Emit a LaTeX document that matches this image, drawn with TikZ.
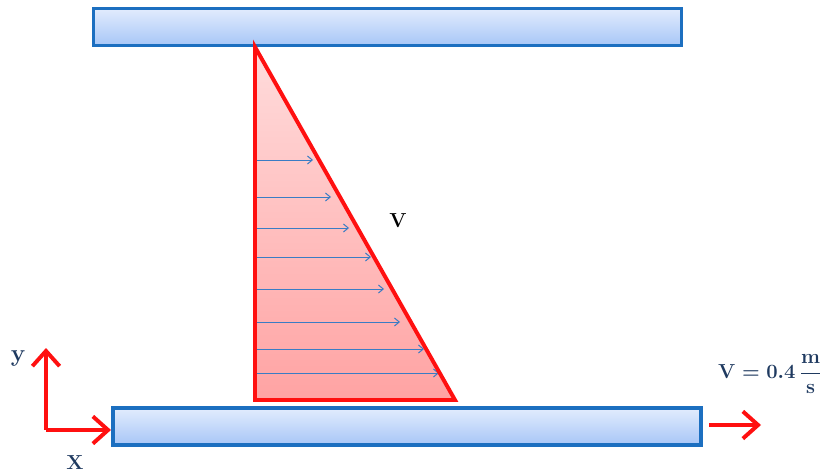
\documentclass[tikz,border=0pt]{standalone}
\usetikzlibrary{arrows.meta,shadows}
\usepackage{amsmath}
\definecolor{plateblue}{HTML}{1C6FC0}
\definecolor{platetop}{HTML}{E2ECFD}
\definecolor{platebot}{HTML}{A7C6F7}
\definecolor{profred}{HTML}{FF1010}
\definecolor{proftop}{HTML}{FFDCDC}
\definecolor{profbot}{HTML}{FFA3A3}
\definecolor{velblue}{HTML}{3A7CC4}
\definecolor{textblue}{HTML}{1F3A60}
\begin{document}
\begin{tikzpicture}[x=0.025cm, y=-0.025cm,
    plate/.style={draw=plateblue, line width=2.6pt, top color=platetop, bottom color=platebot,
        minimum height=0.93cm, inner sep=0pt,
        drop shadow={opacity=0.25, shadow xshift=0.6pt, shadow yshift=-1.2pt}},
    axis/.style={draw=profred, line width=2.8pt, -{Straight Barb[length=3.8mm, width=6.8mm, line width=2.8pt]}},
    vel/.style={draw=velblue, line width=0.7pt, -{Straight Barb[length=1.2mm, width=2mm]}},
    lbl/.style={font=\bfseries, text=textblue, inner sep=0pt}
]
\useasboundingbox (0,0) rectangle (820,473);

% Plates
\node[plate, minimum width=14.7cm] (top) at (387.5,27) {};
\node[plate, minimum width=14.7cm] (bottom) at (407,426.5) {};

% Velocity profile
\coordinate (apex) at (255,47);
\coordinate (base) at (255,400);
\coordinate (tip) at (455,400);
\shade[top color=proftop, bottom color=profbot] (apex) -- (tip) -- (base) -- cycle;
\foreach \y/\xe in {160/313, 197/331, 228/349, 257/371, 289/384, 322/400, 349/424, 373/439}
    \draw[vel] (257,\y) -- (\xe,\y);
\draw[profred, line width=2.8pt, line join=miter] (apex) -- (tip) -- (base) -- cycle;
\node[lbl, font=\bfseries\Large, text=black] (vlab) at (398,221) {V};

% Axes
\coordinate (orig) at (46,430);
\coordinate (yend) at (46,348);
\coordinate (xend) at (111,430);
\draw[axis] (orig) -- (yend);
\draw[axis] (orig) -- (xend);
\node[lbl, font=\bfseries\LARGE] (ylab) at (18,359) {y};
\node[lbl, font=\bfseries\Large] (xlab) at (75,463) {X};

% Moving plate
\coordinate (mstart) at (709,425);
\coordinate (mend) at (761,425);
\draw[axis] (mstart) -- (mend);
\node[font=\Large\boldmath, text=textblue, inner sep=0pt] (speed) at (770,374) {$\mathbf{V}=\mathbf{0.4}\,\dfrac{\mathbf{m}}{\mathbf{s}}$};
\end{tikzpicture}
\end{document}
